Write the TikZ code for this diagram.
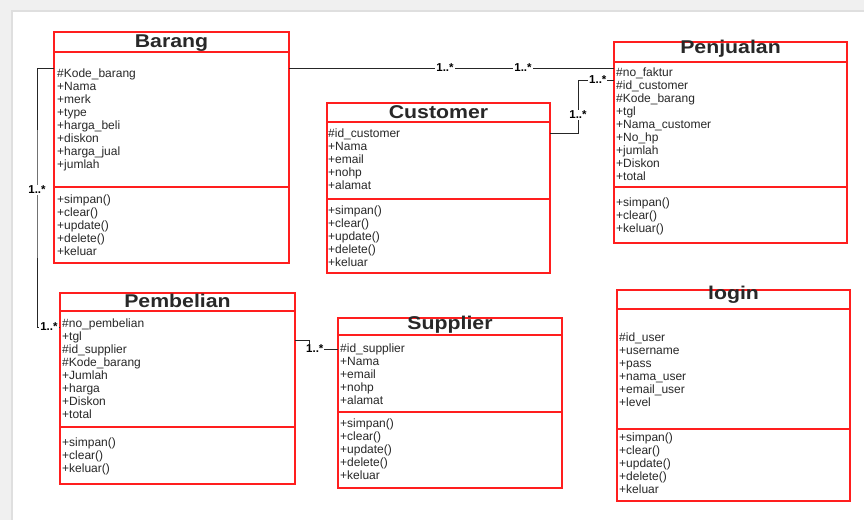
\documentclass[tikz,border=0pt]{standalone}
\usepackage{fontspec}
\setmainfont{Liberation Sans}
\newfontfamily\titlefont[FakeStretch=1.15]{Liberation Sans}
\usetikzlibrary{positioning}

\definecolor{umlred}{RGB}{255,30,30}
\definecolor{umltext}{RGB}{40,40,40}

\tikzset{
  clspart/.style={draw=umlred, line width=1.1pt, rectangle, inner sep=0pt, outer sep=0pt, anchor=north west},
  clstitle/.style={anchor=base, inner sep=0pt, text=umltext, font=\titlefont\bfseries\fontsize{18.5}{18.5}\selectfont},
  attrtext/.style={anchor=north west, inner sep=0pt, align=left, text=umltext, font=\fontsize{12}{13}\selectfont},
  assoc/.style={draw=black!85, line width=1pt},
  mult/.style={fill=white, inner sep=1pt, text=black, font=\bfseries\fontsize{11.5}{11.5}\selectfont},
}

\begin{document}
\begin{tikzpicture}[x=1pt,y=-1pt]
\useasboundingbox (0,0) rectangle (864,520);
%page background
\fill[gray!12] (0,0) rectangle (864,520);
\fill[gray!25] (11,10) rectangle (864,520);
\fill[white] (13,12) rectangle (864,520);

%Class Barang
\node[clspart, minimum width=235, minimum height=20] (barangT) at (54,32) {};
\node[clspart, minimum width=235, minimum height=135] (barangA) at (barangT.south west) {};
\node[clspart, minimum width=235, minimum height=76] (barangM) at (barangA.south west) {};
\node[clstitle] (barangN) at (171.5,47.5) {Barang};
\node[attrtext] (barangAt) at (57,68.4) {\#Kode\_barang\\+Nama\\+merk\\+type\\+harga\_beli\\+diskon\\+harga\_jual\\+jumlah};
\node[attrtext] (barangMt) at (57,194.4) {+simpan()\\+clear()\\+update()\\+delete()\\+keluar};

%Class Customer
\node[clspart, minimum width=223, minimum height=19] (customerT) at (327,103) {};
\node[clspart, minimum width=223, minimum height=77] (customerA) at (customerT.south west) {};
\node[clspart, minimum width=223, minimum height=74] (customerM) at (customerA.south west) {};
\node[clstitle] (customerN) at (438.5,118) {Customer};
\node[attrtext] (customerAt) at (328,128.4) {\#id\_customer\\+Nama\\+email\\+nohp\\+alamat};
\node[attrtext] (customerMt) at (328,205.4) {+simpan()\\+clear()\\+update()\\+delete()\\+keluar};

%Class Penjualan
\node[clspart, minimum width=233, minimum height=20] (penjualanT) at (614,42) {};
\node[clspart, minimum width=233, minimum height=125] (penjualanA) at (penjualanT.south west) {};
\node[clspart, minimum width=233, minimum height=56] (penjualanM) at (penjualanA.south west) {};
\node[clstitle] (penjualanN) at (730.5,53) {Penjualan};
\node[attrtext] (penjualanAt) at (616,67.4) {\#no\_faktur\\\#id\_customer\\\#Kode\_barang\\+tgl\\+Nama\_customer\\+No\_hp\\+jumlah\\+Diskon\\+total};
\node[attrtext] (penjualanMt) at (616,197.4) {+simpan()\\+clear()\\+keluar()};

%Class Pembelian
\node[clspart, minimum width=235, minimum height=18] (pembelianT) at (60,293) {};
\node[clspart, minimum width=235, minimum height=116] (pembelianA) at (pembelianT.south west) {};
\node[clspart, minimum width=235, minimum height=57] (pembelianM) at (pembelianA.south west) {};
\node[clstitle] (pembelianN) at (177.5,307) {Pembelian};
\node[attrtext] (pembelianAt) at (62,318.4) {\#no\_pembelian\\+tgl\\\#id\_supplier\\\#Kode\_barang\\+Jumlah\\+harga\\+Diskon\\+total};
\node[attrtext] (pembelianMt) at (62,437.4) {+simpan()\\+clear()\\+keluar()};

%Class Supplier
\node[clspart, minimum width=224, minimum height=17] (supplierT) at (338,318) {};
\node[clspart, minimum width=224, minimum height=77] (supplierA) at (supplierT.south west) {};
\node[clspart, minimum width=224, minimum height=76] (supplierM) at (supplierA.south west) {};
\node[clstitle] (supplierN) at (450,329) {Supplier};
\node[attrtext] (supplierAt) at (340,343.4) {\#id\_supplier\\+Nama\\+email\\+nohp\\+alamat};
\node[attrtext] (supplierMt) at (340,418.4) {+simpan()\\+clear()\\+update()\\+delete()\\+keluar};

%Class login
\node[clspart, minimum width=233, minimum height=19] (loginT) at (617,290) {};
\node[clspart, minimum width=233, minimum height=120] (loginA) at (loginT.south west) {};
\node[clspart, minimum width=233, minimum height=72] (loginM) at (loginA.south west) {};
\node[clstitle] (loginN) at (733.5,299) {login};
\node[attrtext] (loginAt) at (619,332.4) {\#id\_user\\+username\\+pass\\+nama\_user\\+email\_user\\+level};
\node[attrtext] (loginMt) at (619,432.4) {+simpan()\\+clear()\\+update()\\+delete()\\+keluar};

%Associations
\coordinate (cpBend) at (578,80);
\coordinate (bpBend) at (37,190);
\coordinate (psBend) at (309,349);
\draw[assoc] ([yshift=-16pt]barangA.north east) -- ([yshift=-6pt]penjualanA.north west)
  node[mult, pos=0.48] {1..*} node[mult, pos=0.72] {1..*};
\draw[assoc] ([yshift=-11pt]customerA.north east) -| (cpBend)
  node[mult, pos=0.67] {1..*} -- ([yshift=-18pt]penjualanA.north west) node[mult, pos=0.55] {1..*};
\draw[assoc] ([yshift=-16pt]barangA.north west) -| (bpBend) node[mult] {1..*}
  |- ([yshift=-16pt]pembelianA.north west) node[mult, pos=0.76] {1..*};
\draw[assoc] ([yshift=-29pt]pembelianA.north east) -| (psBend)
  -- ([yshift=-14pt]supplierA.north west) node[mult, pos=0.2] {1..*};

\end{tikzpicture}
\end{document}
